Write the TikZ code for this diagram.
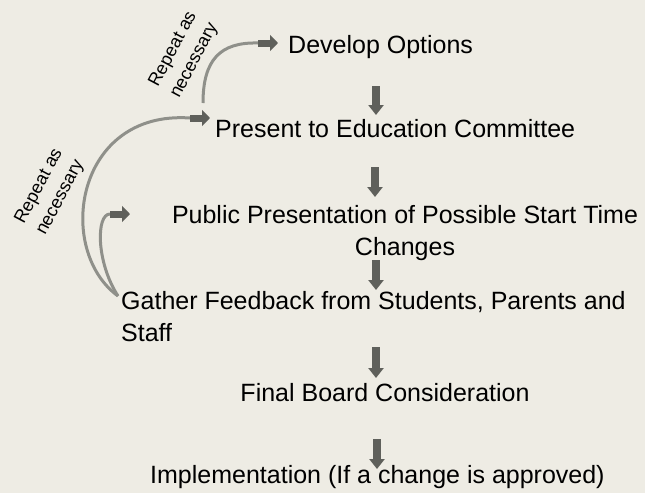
\documentclass[tikz,border=0pt]{standalone}
\usepackage{fontspec}
\setmainfont{Liberation Sans}
\usetikzlibrary{arrows.meta}
\definecolor{bgc}{HTML}{EEECE4}
\definecolor{curvec}{HTML}{8F908A}
\definecolor{arrowc}{HTML}{5F605B}
\tikzset{
  txt/.style={inner sep=0pt, text=black, font=\fontsize{25}{32}\selectfont},
  lbl/.style={inner sep=0pt, text=black, align=center, rotate=62, font=\fontsize{18}{24}\selectfont},
  downarrow/.style={draw=arrowc, line width=8pt, -{Triangle[width=15pt,length=10pt]}},
  smallarrow/.style={draw=arrowc, line width=7pt, -{Triangle[width=16pt,length=8pt]}},
  loopcurve/.style={draw=curvec, line width=3pt},
}
\begin{document}
\begin{tikzpicture}[x=1pt,y=-1pt]
\fill[bgc] (0,0) rectangle (645,493);
\useasboundingbox (0,0) rectangle (645,493);

% text nodes
\node[txt, anchor=base west] (dev) at (288,53) {Develop Options};
\node[txt, anchor=base west] (pres) at (215,137) {Present to Education Committee};
\node[txt, align=center, anchor=base] (pub) at (405,255) {Public Presentation of Possible Start Time\\Changes};
\node[txt, align=left, anchor=base west] (gat) at (121,341) {Gather Feedback from Students, Parents and\\Staff};
\node[txt, anchor=base] (fin) at (385,401) {Final Board Consideration};
\node[txt, anchor=base west] (imp) at (150,483) {Implementation (If a change is approved)};

% down arrows
\coordinate (d1s) at (376,86);  \coordinate (d1e) at (376,115);
\coordinate (d2s) at (375,167); \coordinate (d2e) at (375,197);
\coordinate (d3s) at (376,260); \coordinate (d3e) at (376,290);
\coordinate (d4s) at (376,347); \coordinate (d4e) at (376,378);
\coordinate (d5s) at (377,439); \coordinate (d5e) at (377,469);
\draw[downarrow] (d1s) -- (d1e);
\draw[downarrow] (d2s) -- (d2e);
\draw[downarrow] (d3s) -- (d3e);
\draw[downarrow] (d4s) -- (d4e);
\draw[downarrow] (d5s) -- (d5e);

% loop curves
\coordinate (c1s) at (203,103);
\coordinate (a1s) at (258,43); \coordinate (a1e) at (278,43);
\coordinate (g0) at (118,296);
\coordinate (a2s) at (190,118); \coordinate (a2e) at (210,118);
\coordinate (a3s) at (110,214); \coordinate (a3e) at (130,214);

\draw[loopcurve] (c1s) .. controls (203,60) and (220,42) .. (a1s);
\draw[loopcurve] (g0) .. controls (55,250) and (75,110) .. (a2s);
\draw[loopcurve] (g0) .. controls (96,262) and (96,214) .. (a3s);

\draw[smallarrow] (a1s) -- (a1e);
\draw[smallarrow] (a2s) -- (a2e);
\draw[smallarrow] (a3s) -- (a3e);

% labels
\node[lbl] (l1) at (184,55) {Repeat as\\necessary};
\node[lbl] (l2) at (50,192) {Repeat as\\necessary};
\end{tikzpicture}
\end{document}
